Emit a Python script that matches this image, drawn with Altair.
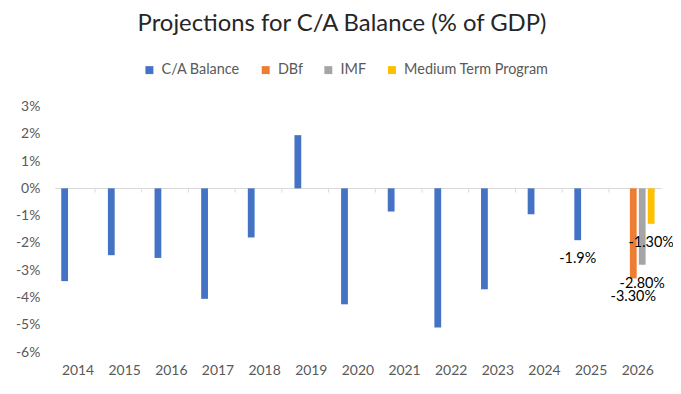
import altair as alt
import pandas as pd

years = [str(y) for y in range(2014, 2027)]
ca_years = years[:12]
ca_values = [-3.4, -2.45, -2.55, -4.05, -1.8, 1.95, -4.25, -0.85, -5.1, -3.7, -0.95, -1.9]
proj_series = ["DBf", "IMF", "Medium Term Program"]
proj_values = [-3.3, -2.8, -1.3]
series_names = ["C/A Balance", "DBf", "IMF", "Medium Term Program"]
series_colors = ["#4472C4", "#ED7D31", "#A5A5A5", "#FFC000"]
label_keys = [("2025", "C/A Balance"), ("2026", "DBf"), ("2026", "IMF"), ("2026", "Medium Term Program")]
label_texts = ["-1.9%", "-3.30%", "-2.80%", "-1.30%"]
y_ticks = list(range(-6, 4))

rows = []
for y, v in zip(ca_years, ca_values):
    rows.append({"year": y, "series": "C/A Balance", "value": v})
for s, v in zip(proj_series, proj_values):
    rows.append({"year": "2026", "series": s, "value": v})
df = pd.DataFrame(rows)
lab = dict(zip(label_keys, label_texts))
df["label"] = [lab.get((r.year, r.series), "") for r in df.itertuples()]

FONT = "Lato"
GREY = "#595959"

xscale = alt.Scale(domain=years, paddingInner=0.28, paddingOuter=0.14)
offscale = alt.Scale(domain=series_names, paddingInner=0.24)
yscale = alt.Scale(domain=[-6, 3], nice=False, zero=True)
yaxis = alt.Axis(values=y_ticks, labelExpr="datum.value + '%'", domain=False, ticks=False,
                 grid=False, labelPadding=15, labelFontSize=14, labelColor=GREY,
                 labelFont=FONT, labelOverlap=False, labelBound=False, tickCount=10)

bars = alt.Chart(df).mark_bar().encode(
    x=alt.X("year:N", scale=xscale, title=None,
            axis=alt.Axis(orient="bottom", offset=-165, labels=False, domain=True,
                          domainColor="#D9D9D9", ticks=True, tickColor="#D9D9D9", tickSize=4,
                          tickBand="extent", grid=False)),
    xOffset=alt.XOffset("series:N", scale=offscale),
    y=alt.Y("value:Q", scale=yscale, title=None, axis=yaxis),
    color=alt.Color("series:N", scale=alt.Scale(domain=series_names, range=series_colors),
                    legend=alt.Legend(orient="none", direction="horizontal", title=None,
                                      legendX=88, legendY=-44, symbolType="square",
                                      symbolSize=64, symbolStrokeWidth=0, labelFontSize=14.5,
                                      labelFont=FONT, labelColor=GREY, columnPadding=18,
                                      labelOffset=5)),
)

labels = alt.Chart(df).transform_filter("datum.label != ''").mark_text(
    dy=19, fontSize=14.5, font=FONT, color="#000000"
).encode(
    x=alt.X("year:N", scale=xscale, title=None,
            axis=alt.Axis(orient="bottom", domain=False, ticks=False, labelAngle=0,
                          labelPadding=12, labelFontSize=14, labelColor=GREY, labelFont=FONT,
                          grid=False)),
    xOffset=alt.XOffset("series:N", scale=offscale),
    y=alt.Y("value:Q", scale=yscale, title=None, axis=yaxis),
    text="label:N",
)

chart = alt.layer(bars, labels).resolve_axis(x="independent").properties(
    width=610, height=247,
    autosize="none",
    padding={"left": 47, "top": 98, "right": 12, "bottom": 25},
    title=alt.TitleParams("Projections for C/A Balance (% of GDP)", fontSize=24, font=FONT,
                          fontWeight="normal", color="#262626", offset=27, dx=-16, anchor="middle"),
).configure_view(stroke=None)

chart.save("out.html", embed_options={"renderer": "svg", "actions": False})
